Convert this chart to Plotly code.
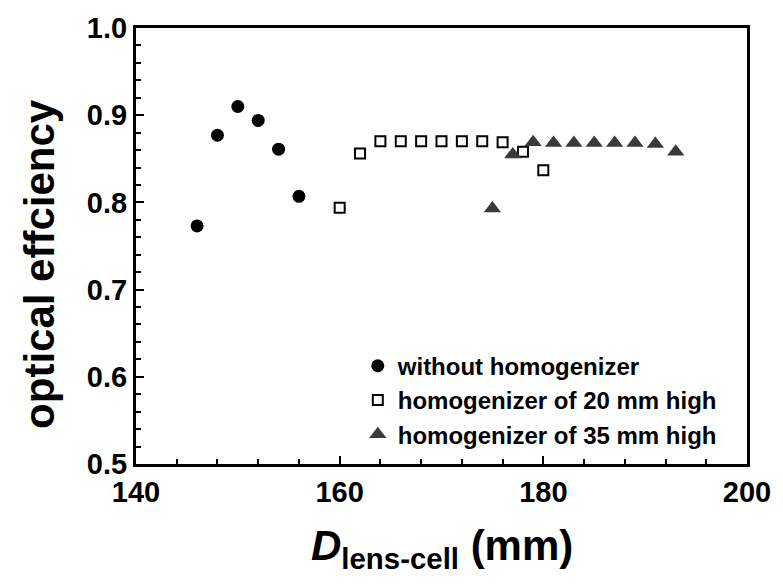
import plotly.graph_objects as go

# Data
x_none = [146, 148, 150, 152, 154, 156]
y_none = [0.773, 0.877, 0.910, 0.894, 0.861, 0.807]

x_20 = [160, 162, 164, 166, 168, 170, 172, 174, 176, 178, 180]
y_20 = [0.794, 0.856, 0.870, 0.870, 0.870, 0.870, 0.870, 0.870, 0.869, 0.858, 0.837]

x_35 = [175, 177, 179, 181, 183, 185, 187, 189, 191, 193]
y_35 = [0.793, 0.855, 0.869, 0.868, 0.868, 0.868, 0.868, 0.868, 0.867, 0.858]

names = ["without homogenizer", "homogenizer of 20 mm high", "homogenizer of 35 mm high"]

FONT = "Liberation Sans, Arial, sans-serif"

fig = go.Figure()
fig.add_trace(go.Scatter(x=x_none, y=y_none, mode="markers", name=names[0],
                         marker=dict(symbol="circle", size=13, color="#000000")))
fig.add_trace(go.Scatter(x=x_20, y=y_20, mode="markers", name=names[1],
                         marker=dict(symbol="square-open", size=10, color="#000000",
                                     line=dict(width=2, color="#000000"))))
fig.add_trace(go.Scatter(x=x_35, y=y_35, mode="markers", name=names[2],
                         marker=dict(symbol="triangle-up", size=15, color="#3a3a3a")))

axis_common = dict(
    showline=True, linewidth=3, linecolor="#000000", mirror=True,
    showgrid=False, zeroline=False,
    ticks="inside", ticklen=8, tickwidth=2, tickcolor="#000000",
    tickfont=dict(family=FONT, size=29, color="#000000", weight="bold"),
)

fig.update_xaxes(range=[140, 200], dtick=20, tick0=140,
                 minor=dict(dtick=4, ticks="inside", ticklen=5, tickwidth=2, tickcolor="#000000"),
                 **axis_common)
fig.update_yaxes(range=[0.5, 1.0], dtick=0.1, tick0=0.5, tickformat=".1f",
                 minor=dict(dtick=0.02, ticks="inside", ticklen=5, tickwidth=2, tickcolor="#000000"),
                 **axis_common)

fig.add_annotation(text="<b><i>D</i><sub>lens-cell</sub> (mm)</b>", xref="paper", yref="paper",
                   x=0.5, y=-0.128, xanchor="center", yanchor="top", showarrow=False,
                   font=dict(family=FONT, size=42, color="#000000"))
fig.add_annotation(text="<b>optical effciency</b>", xref="paper", yref="paper",
                   x=-0.158, y=0.46, xanchor="center", yanchor="middle", textangle=-90,
                   showarrow=False, font=dict(family=FONT, size=42, color="#000000"))

fig.update_layout(
    width=783, height=586,
    margin=dict(l=136, r=29, t=24, b=122),
    paper_bgcolor="#ffffff", plot_bgcolor="#ffffff",
    showlegend=True,
    legend=dict(x=0.363, y=0.276, xanchor="left", yanchor="top",
                bgcolor="rgba(0,0,0,0)", borderwidth=0,
                font=dict(family=FONT, size=24, color="#000000", weight="bold"),
                itemwidth=30, tracegroupgap=0),
)

fig.write_html("out.html")
